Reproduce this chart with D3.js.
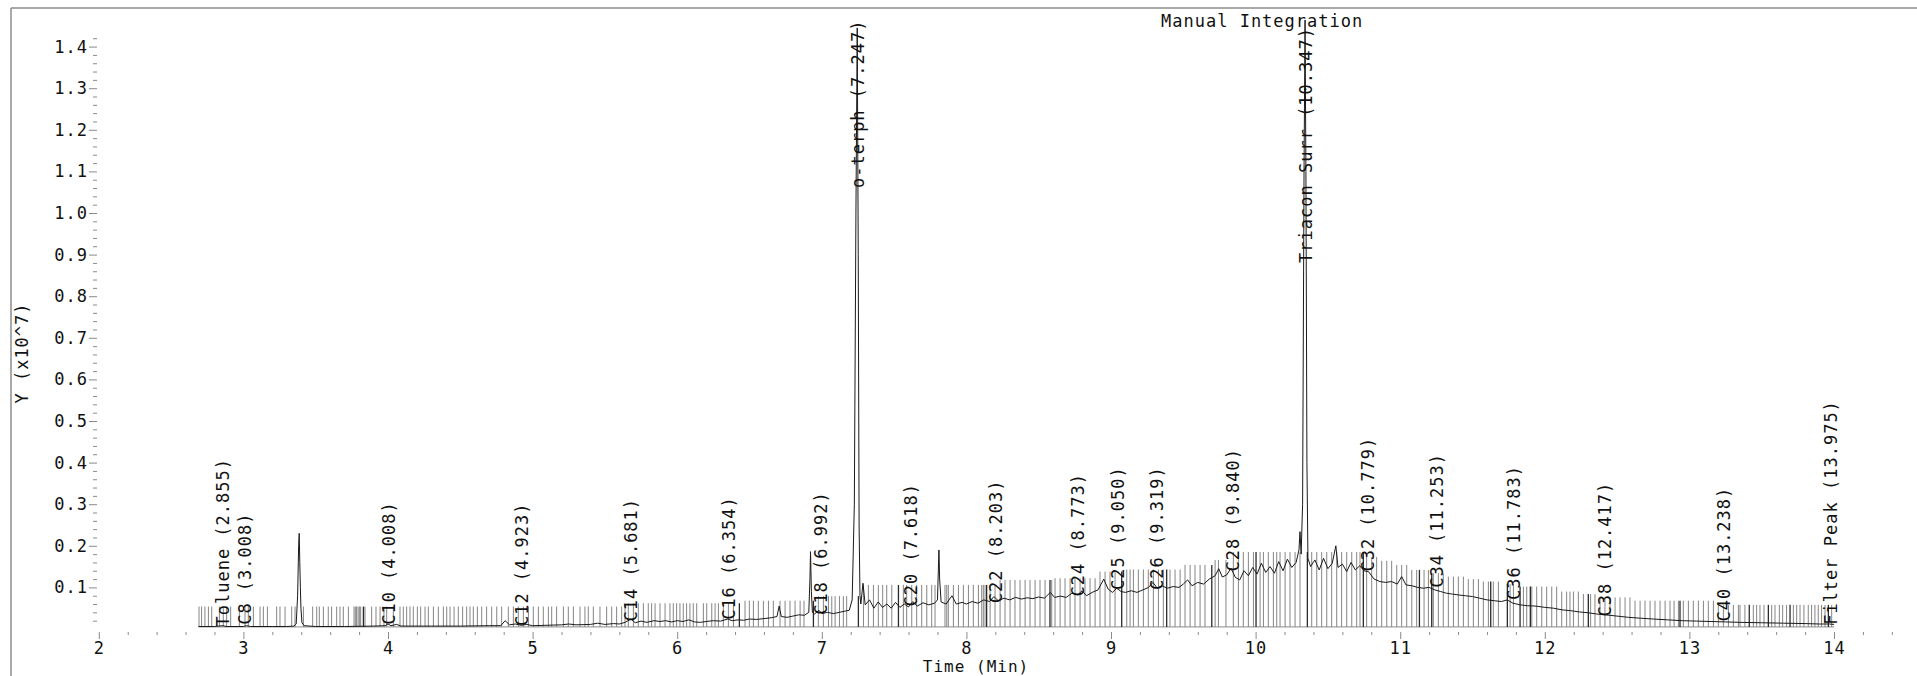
<!DOCTYPE html>
<html>
<head>
<meta charset="utf-8">
<script src="https://cdn.jsdelivr.net/npm/d3@7"></script>
<style>
  html, body { margin: 0; padding: 0; background: #fff; overflow: hidden; }
  svg { display: block; }
  text { font-family: "DejaVu Sans Mono", monospace; font-size: 17px; fill: #111; letter-spacing: 1px; }
</style>
</head>
<body>
<svg id="chart" width="1917" height="676"></svg>
<script>
// Axis tick values (minutes / response x10^7)
const xTicks = [2, 3, 4, 5, 6, 7, 8, 9, 10, 11, 12, 13, 14];
const yTicks = [0.1, 0.2, 0.3, 0.4, 0.5, 0.6, 0.7, 0.8, 0.9, 1.0, 1.1, 1.2, 1.3, 1.4];

// Detector trace: [retention time (min), response (x10^7)]
const trace = [
  [2.69,0.006],[2.80,0.006],[2.86,0.008],[2.88,0.006],[3.00,0.006],[3.02,0.008],[3.05,0.006],[3.20,0.006],
  [3.30,0.006],[3.35,0.007],[3.365,0.012],[3.375,0.08],[3.382,0.2],[3.386,0.23],[3.390,0.16],[3.394,0.1],
  [3.398,0.05],[3.405,0.015],[3.42,0.008],[3.50,0.006],[3.70,0.006],[3.90,0.007],[3.98,0.008],[4.00,0.012],
  [4.02,0.008],[4.06,0.011],[4.09,0.007],[4.30,0.007],[4.50,0.007],[4.70,0.008],[4.78,0.008],[4.81,0.02],
  [4.84,0.01],[4.88,0.012],[4.92,0.009],[4.96,0.011],[5.00,0.008],[5.10,0.009],[5.20,0.010],[5.25,0.012],
  [5.30,0.010],[5.40,0.011],[5.45,0.014],[5.50,0.011],[5.56,0.013],[5.60,0.012],[5.64,0.016],[5.68,0.024],
  [5.71,0.015],[5.75,0.019],[5.79,0.016],[5.84,0.020],[5.88,0.018],[5.92,0.020],[5.96,0.017],[6.00,0.020],
  [6.04,0.018],[6.08,0.022],[6.12,0.017],[6.16,0.016],[6.20,0.018],[6.25,0.020],[6.30,0.019],[6.35,0.024],
  [6.38,0.020],[6.42,0.022],[6.46,0.021],[6.50,0.024],[6.55,0.023],[6.60,0.025],[6.65,0.027],[6.69,0.030],
  [6.705,0.055],[6.72,0.030],[6.76,0.028],[6.80,0.031],[6.84,0.034],[6.88,0.033],[6.91,0.040],[6.918,0.12],
  [6.922,0.186],[6.928,0.09],[6.935,0.040],[6.95,0.036],[6.98,0.045],[7.00,0.037],[7.04,0.040],[7.08,0.037],
  [7.12,0.040],[7.16,0.043],[7.19,0.045],[7.21,0.07],[7.225,0.3],[7.236,1.0],[7.245,1.445],[7.252,0.9],
  [7.258,0.25],[7.264,0.08],[7.27,0.060],[7.285,0.11],[7.30,0.058],[7.33,0.070],[7.36,0.050],[7.39,0.065],
  [7.42,0.052],[7.45,0.060],[7.48,0.050],[7.51,0.064],[7.54,0.052],[7.57,0.060],[7.60,0.053],[7.63,0.066],
  [7.66,0.055],[7.70,0.063],[7.74,0.058],[7.78,0.062],[7.80,0.070],[7.81,0.19],[7.815,0.12],[7.825,0.065],
  [7.86,0.060],[7.90,0.080],[7.93,0.060],[7.97,0.064],[8.00,0.060],[8.04,0.066],[8.08,0.062],[8.12,0.070],
  [8.16,0.066],[8.19,0.078],[8.22,0.068],[8.26,0.074],[8.30,0.070],[8.34,0.076],[8.38,0.072],[8.42,0.075],
  [8.46,0.073],[8.50,0.077],[8.54,0.074],[8.58,0.088],[8.61,0.076],[8.65,0.079],[8.69,0.076],[8.73,0.086],
  [8.77,0.082],[8.80,0.092],[8.83,0.080],[8.87,0.088],[8.91,0.094],[8.95,0.120],[8.98,0.096],[9.01,0.088],
  [9.04,0.098],[9.07,0.090],[9.10,0.088],[9.14,0.092],[9.18,0.088],[9.22,0.094],[9.26,0.100],[9.29,0.112],
  [9.32,0.098],[9.35,0.104],[9.39,0.098],[9.43,0.102],[9.47,0.100],[9.50,0.108],[9.53,0.118],[9.56,0.104],
  [9.60,0.112],[9.64,0.108],[9.68,0.120],[9.72,0.128],[9.745,0.145],[9.77,0.125],[9.80,0.130],[9.83,0.146],
  [9.86,0.124],[9.89,0.118],[9.92,0.140],[9.95,0.128],[9.98,0.148],[10.01,0.132],[10.04,0.158],[10.07,0.136],
  [10.10,0.150],[10.13,0.134],[10.16,0.162],[10.19,0.140],[10.22,0.168],[10.25,0.148],[10.28,0.160],[10.30,0.190],
  [10.307,0.234],[10.315,0.18],[10.325,0.3],[10.335,1.1],[10.342,1.464],[10.348,1.1],[10.355,0.4],[10.362,0.17],
  [10.38,0.150],[10.41,0.166],[10.44,0.142],[10.47,0.170],[10.50,0.145],[10.53,0.158],[10.555,0.200],[10.57,0.148],
  [10.60,0.156],[10.63,0.138],[10.66,0.160],[10.69,0.142],[10.72,0.152],[10.75,0.140],[10.78,0.138],[10.82,0.120],
  [10.86,0.114],[10.90,0.112],[10.94,0.114],[10.98,0.108],[11.01,0.126],[11.04,0.106],[11.08,0.104],[11.12,0.100],
  [11.16,0.098],[11.20,0.100],[11.24,0.094],[11.28,0.090],[11.32,0.086],[11.36,0.084],[11.40,0.082],[11.45,0.080],
  [11.50,0.078],[11.55,0.074],[11.60,0.070],[11.65,0.068],[11.70,0.066],[11.74,0.070],[11.78,0.062],[11.83,0.058],
  [11.88,0.056],[11.94,0.055],[12.00,0.052],[12.06,0.050],[12.12,0.046],[12.18,0.044],[12.24,0.041],[12.30,0.039],
  [12.36,0.036],[12.42,0.034],[12.50,0.031],[12.58,0.028],[12.66,0.026],[12.75,0.024],[12.85,0.022],[12.95,0.020],
  [13.05,0.019],[13.15,0.018],[13.25,0.017],[13.35,0.016],[13.50,0.015],[13.65,0.014],[13.80,0.013],[13.90,0.012],
  [13.97,0.012],[14.00,0.011]
];

// Integration event marks (retention times, min)
const markerTimes = [
  2.693,2.711,2.734,2.758,2.781,2.834,2.861,2.884,2.912,2.972,3.011,3.034,3.069,3.115,3.138,3.166,3.230,3.253,
  3.288,3.334,3.357,3.415,3.479,3.507,3.525,3.553,3.587,3.610,3.645,3.668,3.691,3.726,3.765,3.774,3.783,3.793,
  3.802,3.811,3.841,3.887,3.917,3.945,3.972,3.991,4.037,4.083,4.106,4.129,4.152,4.175,4.203,4.226,4.256,4.279,
  4.314,4.348,4.383,4.406,4.429,4.457,4.486,4.516,4.544,4.567,4.590,4.618,4.648,4.682,4.717,4.752,4.786,4.832,
  4.867,4.901,4.936,4.971,5.005,5.040,5.074,5.109,5.132,5.166,5.213,5.247,5.282,5.328,5.362,5.385,5.420,5.466,
  5.512,5.547,5.581,5.616,5.639,5.662,5.697,5.731,5.766,5.800,5.823,5.847,5.881,5.916,5.950,5.973,5.996,6.019,
  6.042,6.065,6.088,6.111,6.135,6.181,6.204,6.239,6.262,6.285,6.319,6.354,6.389,6.469,6.499,6.527,6.561,6.596,
  6.631,6.665,6.711,6.746,6.780,6.815,6.850,6.877,6.976,7.011,7.046,7.069,7.092,7.122,7.149,7.172,7.288,7.322,
  7.357,7.391,7.421,7.449,7.484,7.564,7.587,7.622,7.656,7.691,7.726,7.760,7.783,7.852,7.864,7.875,7.910,7.945,
  7.979,8.014,8.048,8.083,8.106,8.117,8.129,8.164,8.198,8.233,8.267,8.302,8.336,8.371,8.406,8.440,8.475,8.509,
  8.544,8.590,8.613,8.648,8.682,8.717,8.751,8.786,8.820,8.855,8.890,8.924,8.959,8.993,9.028,9.109,9.132,9.155,
  9.189,9.224,9.258,9.293,9.328,9.362,9.408,9.443,9.478,9.512,9.547,9.581,9.616,9.650,9.720,9.743,9.795,9.846,
  9.881,9.915,9.950,9.985,10.031,10.054,10.088,10.123,10.146,10.169,10.204,10.238,10.273,10.307,10.388,10.423,
  10.457,10.492,10.526,10.561,10.595,10.630,10.665,10.699,10.722,10.768,10.803,10.837,10.872,10.907,10.941,10.976,
  11.010,11.045,11.080,11.114,11.165,11.195,11.229,11.264,11.298,11.333,11.368,11.402,11.437,11.471,11.506,11.541,
  11.575,11.610,11.644,11.679,11.760,11.783,11.852,11.875,11.910,11.944,11.979,12.013,12.048,12.082,12.117,12.151,
  12.174,12.198,12.232,12.267,12.317,12.347,12.382,12.416,12.451,12.486,12.520,12.555,12.589,12.624,12.659,12.693,
  12.728,12.762,12.797,12.832,12.866,12.894,12.924,12.958,12.993,13.027,13.062,13.097,13.131,13.166,13.200,13.235,
  13.270,13.304,13.339,13.350,13.384,13.442,13.465,13.488,13.516,13.569,13.592,13.622,13.645,13.672,13.719,13.742,
  13.765,13.792,13.822,13.845,13.868,13.891,13.914,13.938,13.984
];
const darkMarkerTimes = [
  3.830,6.430,6.942,7.253,7.530,8.140,8.578,9.074,9.385,9.697,10.003,10.358,10.745,11.133,11.218,11.626,
  11.741,11.829,11.900,12.301,12.935,13.414,13.546,13.696,13.961
];

// Height reached by the marks in each time window: [from, to, top]
const markerLevels = [
  [2.68,5.62,0.054],[5.62,6.45,0.062],[6.45,6.95,0.068],[6.95,7.26,0.079],[7.26,8.20,0.106],
  [8.20,8.60,0.118],[8.60,8.90,0.122],[8.90,9.10,0.138],[9.10,9.50,0.143],[9.50,9.72,0.154],
  [9.72,9.80,0.166],[9.80,10.75,0.185],[10.75,10.85,0.173],[10.85,10.95,0.164],[10.95,11.08,0.154],
  [11.08,11.20,0.142],[11.20,11.30,0.134],[11.30,11.45,0.126],[11.45,11.55,0.120],[11.55,11.70,0.114],
  [11.70,11.80,0.108],[11.80,12.10,0.102],[12.10,12.25,0.090],[12.25,12.35,0.084],[12.35,12.60,0.076],
  [12.60,13.20,0.068],[13.20,14.01,0.058]
];
const markerFloor = 0.005;
const markerSpan = [2.69, 14.0];

// Named compounds
const labelNames = ["Toluene","C8","C10","C12","C14","C16","C18","o-terph","C20","C22","C24","C25","C26",
  "C28","Triacon Surr","C32","C34","C36","C38","C40","Filter Peak"];
const labelTimes = [2.855,3.008,4.008,4.923,5.681,6.354,6.992,7.247,7.618,8.203,8.773,9.050,9.319,
  9.840,10.347,10.779,11.253,11.783,12.417,13.238,13.975];
const labelBases = [0.006,0.010,0.010,0.007,0.018,0.022,0.034,1.060,0.054,0.062,0.078,0.094,0.094,
  0.138,0.880,0.138,0.099,0.070,0.030,0.018,0.010];

const svg = d3.select("#chart");
const x = d3.scaleLinear().domain([2, 14]).range([98.8, 1834]);
const y = d3.scaleLinear().domain([0, 1.4]).range([629, 46.6]);

// Outer frame (left and top edges)
svg.append("line").attr("x1", 11).attr("y1", 8).attr("x2", 1917).attr("y2", 8)
  .attr("stroke", "#8c8c8c").attr("stroke-width", 1.5);
svg.append("line").attr("x1", 11).attr("y1", 8).attr("x2", 11).attr("y2", 676)
  .attr("stroke", "#8c8c8c").attr("stroke-width", 1.5);

// Y axis
const yMinor = d3.range(1, 72).map(i => +(i * 0.02).toFixed(2)).filter(v => Math.abs(v * 10 - Math.round(v * 10)) > 1e-6);
const gyMinor = svg.append("g").attr("transform", "translate(97,0)")
  .call(d3.axisLeft(y).tickValues(yMinor).tickSize(4).tickFormat(""));
const gy = svg.append("g").attr("transform", "translate(97,0)")
  .call(d3.axisLeft(y).tickValues(yTicks).tickSize(8).tickPadding(1).tickFormat(d3.format(".1f")));

// X axis
const xMinor = d3.range(0, 63).map(i => +(2 + i * 0.2).toFixed(1)).filter(v => Math.abs(v - Math.round(v)) > 1e-6);
const gxMinor = svg.append("g").attr("transform", "translate(0,632)")
  .call(d3.axisBottom(x).tickValues(xMinor).tickSize(3).tickFormat(""));
const gx = svg.append("g").attr("transform", "translate(0,632)")
  .call(d3.axisBottom(x).tickValues(xTicks).tickSize(7).tickPadding(3).tickFormat(d3.format("d")));

[gy, gyMinor, gx, gxMinor].forEach(g => {
  g.select(".domain").remove();
  g.selectAll(".tick line").attr("stroke", "#8a8a8a").attr("stroke-width", 1);
  g.selectAll(".tick text").attr("fill", "#111").style("font-size", "17px")
    .style("font-family", "\"DejaVu Sans Mono\", monospace");
});

// Axis titles
svg.append("text").attr("transform", "translate(21.5,353) rotate(-90)")
  .attr("text-anchor", "middle").attr("dy", "0.36em").text("Y (x10^7)");
svg.append("text").attr("x", 976).attr("y", 672).attr("text-anchor", "middle")
  .style("font-size", "16px").text("Time (Min)");
svg.append("text").attr("x", 1161).attr("y", 27).attr("text-anchor", "start").text("Manual Integration");

// Integration marks
const levelAt = t => { const l = markerLevels.find(s => t >= s[0] && t < s[1]); return l ? l[2] : markerLevels[markerLevels.length - 1][2]; };
const marks = svg.append("g");
marks.append("line")
  .attr("x1", x(markerSpan[0])).attr("x2", x(markerSpan[1]))
  .attr("y1", y(markerFloor)).attr("y2", y(markerFloor))
  .attr("stroke", "#8a8a8a").attr("stroke-width", 1);
marks.selectAll("line.m").data(markerTimes).join("line").attr("class", "m")
  .attr("x1", d => x(d)).attr("x2", d => x(d))
  .attr("y1", y(markerFloor)).attr("y2", d => y(levelAt(d)))
  .attr("stroke", "#858585").attr("stroke-width", 1);
marks.selectAll("line.md").data(darkMarkerTimes).join("line").attr("class", "md")
  .attr("x1", d => x(d)).attr("x2", d => x(d))
  .attr("y1", y(markerFloor)).attr("y2", d => y(levelAt(d)))
  .attr("stroke", "#2a2a2a").attr("stroke-width", 1.3);

// Chromatogram trace
svg.append("path").datum(trace)
  .attr("d", d3.line().x(d => x(d[0])).y(d => y(d[1])))
  .attr("fill", "none").attr("stroke", "#1a1a1a").attr("stroke-width", 1);

// Peak labels, written upward from the peak
svg.append("g").selectAll("text").data(labelNames).join("text")
  .attr("transform", (d, i) => `translate(${x(labelTimes[i])},${y(labelBases[i])}) rotate(-90)`)
  .attr("dy", "0.36em").attr("text-anchor", "start")
  .text((d, i) => `${d} (${labelTimes[i].toFixed(3)})`);
</script>
</body>
</html>
